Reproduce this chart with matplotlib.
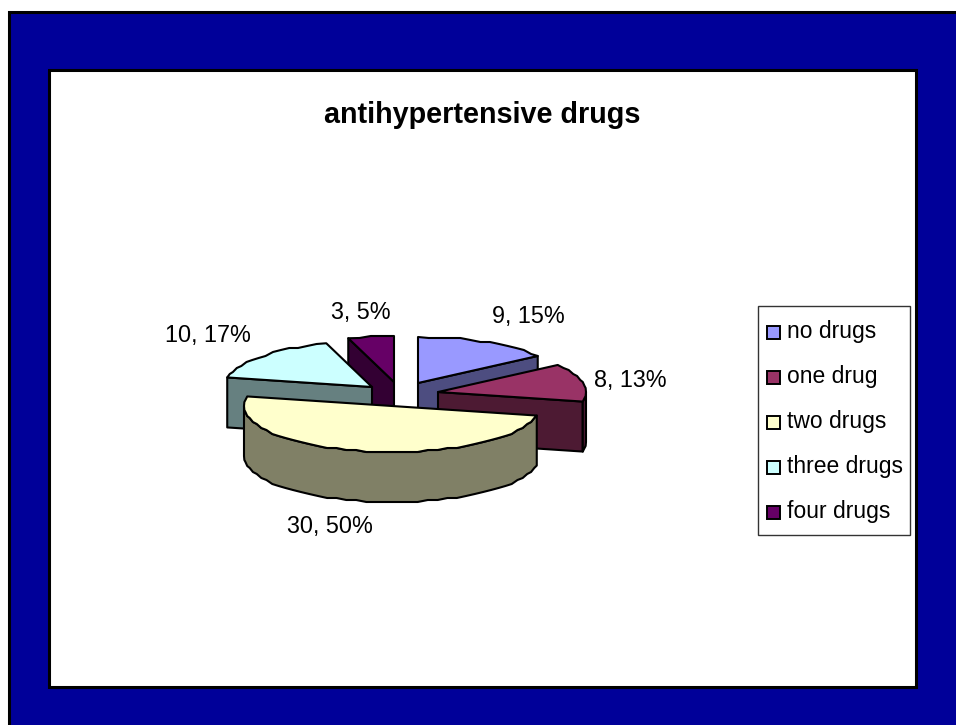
import numpy as np
import matplotlib
matplotlib.use('Agg')
import matplotlib.pyplot as plt
from matplotlib.patches import Polygon, Rectangle

plt.rcParams['font.family'] = ['Liberation Sans', 'DejaVu Sans']

title = 'antihypertensive drugs'
categories = ['no drugs', 'one drug', 'two drugs', 'three drugs', 'four drugs']
values = [9, 8, 30, 10, 3]
colors = ['#9999FF', '#993366', '#FFFFCC', '#CCFFFF', '#660066']
sides = ['#4D4D80', '#4D1A33', '#808066', '#668080', '#330033']

# pie geometry in pixels
cx, cy = 392, 406
rx, ry = 148, 46
depth = 50
explode = [(26, -23), (46, -14), (0, 0), (-20, -19), (2, -24)]
label_pos = [(528, 316), (630, 380), (330, 526), (208, 335), (361, 312)]
draw_order = [4, 0, 3, 1, 2]
legend_y = [332, 377, 422, 467, 512]


def arc(x0, y0, a1, a2):
    # clock angles, 0 at the top, going clockwise
    n = max(int(abs(a2 - a1) / 4), 2)
    t = np.radians(np.linspace(a1, a2, n + 1))
    x = x0 + rx * np.sin(t)
    y = y0 - ry * np.cos(t)
    # coarse outline like old office charts
    y[1:-1] = np.round(y[1:-1] / 2) * 2
    return np.column_stack([x, y])


fig = plt.figure(figsize=(9.56, 7.25), dpi=100, facecolor='white')
ax = fig.add_axes([0, 0, 1, 1])
ax.set_xlim(0, 956)
ax.set_ylim(725, 0)
ax.axis('off')

# slide background and panel
ax.add_patch(Rectangle((9.5, 11.5), 960, 730, fc='#000099', ec='black', lw=2.2))
ax.add_patch(Rectangle((49.5, 69.5), 867, 617, fc='white', ec='black', lw=2.2))

ax.text(482, 115, title, fontsize=20.7, fontweight='bold', ha='center', va='center')

total = sum(values)
angles = np.concatenate([[0], np.cumsum(values) / total * 360])
lw = 1.5

for i in draw_order:
    a1, a2 = angles[i], angles[i + 1]
    x0, y0 = cx + explode[i][0], cy + explode[i][1]

    # flat cut faces, only the ones turned towards the viewer
    cuts = []
    if 180 < a1 < 360:
        cuts.append(a1)
    if 0 < a2 < 180:
        cuts.append(a2)
    for a in cuts:
        p = arc(x0, y0, a, a + 1)[0]
        face = [(x0, y0), p, p + [0, depth], (x0, y0 + depth)]
        ax.add_patch(Polygon(face, fc=sides[i], ec='black', lw=lw, joinstyle='round'))

    # outer wall, only the front half can be seen
    v1, v2 = max(a1, 90), min(a2, 270)
    if v2 > v1:
        top = arc(x0, y0, v1, v2)
        wall = np.vstack([top, (top + [0, depth])[::-1]])
        ax.add_patch(Polygon(wall, fc=sides[i], ec='black', lw=lw, joinstyle='round'))

    rim = arc(x0, y0, a1, a2)
    ax.add_patch(Polygon(np.vstack([[x0, y0], rim]), fc=colors[i], ec='black', lw=lw, joinstyle='round'))

for v, (lx, ly) in zip(values, label_pos):
    ax.text(lx, ly, f'{v}, {round(v / total * 100)}%', fontsize=16.8, ha='center', va='center')

# legend
ax.add_patch(Rectangle((758, 306), 152, 229, fc='white', ec='#333333', lw=1))
for name, c, ly in zip(categories, colors, legend_y):
    ax.add_patch(Rectangle((767.5, ly - 6.5), 13, 13, fc=c, ec='black', lw=1.4))
    ax.text(787, ly - 0.5, name, fontsize=16.5, ha='left', va='center')

fig.savefig('out.png', dpi=100)
